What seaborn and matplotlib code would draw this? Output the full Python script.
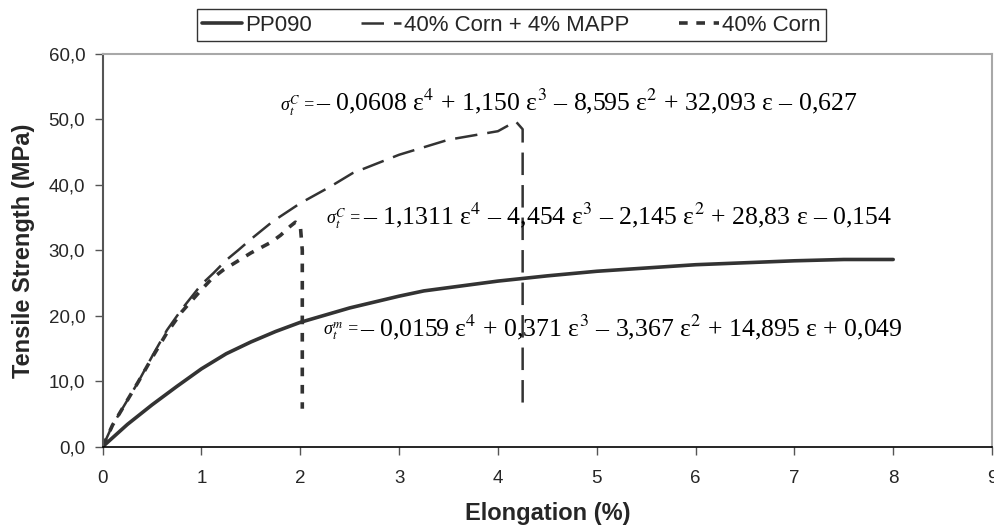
import matplotlib
matplotlib.use("Agg")
import matplotlib.pyplot as plt
import seaborn as sns
import pandas as pd
from matplotlib.ticker import FuncFormatter

# ---- data ----
pp_x = [0, 0.25, 0.5, 0.75, 1.0, 1.25, 1.5, 1.75, 2.0, 2.5, 3.0, 3.25, 3.5,
        4.0, 4.5, 5.0, 5.5, 6.0, 6.5, 7.0, 7.5, 8.0]
pp_y = [0, 3.4, 6.4, 9.2, 11.9, 14.2, 16.0, 17.6, 19.0, 21.2, 23.0, 23.8, 24.3,
        25.3, 26.1, 26.8, 27.3, 27.8, 28.1, 28.4, 28.6, 28.6]

mapp_x = [0, 0.1, 0.36, 0.5, 0.65, 0.8, 1.0, 1.12, 1.25, 1.37, 1.5, 1.72, 2.0,
          2.3, 2.53, 3.0, 3.5, 4.0, 4.18, 4.25, 4.25]
mapp_y = [0, 3.3, 9.9, 13.8, 17.8, 21.0, 24.8, 26.5, 28.5, 30.0, 31.7, 34.4, 37.2,
          39.7, 41.8, 44.6, 46.9, 48.2, 49.7, 48.5, 5.5]

corn_x = [0, 0.1, 0.36, 0.5, 0.65, 0.8, 1.0, 1.1, 1.22, 1.35, 1.5, 1.7, 1.8,
          1.9, 1.95, 2.0, 2.02, 2.02]
corn_y = [0, 3.3, 9.9, 13.6, 17.4, 20.6, 24.0, 25.6, 27.0, 28.2, 29.6, 31.2, 32.3,
          33.7, 34.3, 33.8, 30.0, 5.8]

series_names = ["PP090", "40% Corn + 4% MAPP", "40% Corn"]

equations = [
    ("σ$_t^C$ =", "– 0,0608 ε$^4$ + 1,150 ε$^3$ – 8,595 ε$^2$ + 32,093 ε – 0,627", 2.16, 52.7),
    ("σ$_t^C$ =", "– 1,1311 ε$^4$ – 4,454 ε$^3$ – 2,145 ε$^2$ + 28,83 ε – 0,154", 2.63, 35.4),
    ("σ$_t^m$ =", "– 0,0159 ε$^4$ + 0,371 ε$^3$ – 3,367 ε$^2$ + 14,895 ε + 0,049", 2.60, 18.3),
]

x_ticks = list(range(0, 10))
y_ticks = [0, 10, 20, 30, 40, 50, 60]

# ---- plotting ----
sns.set_style("ticks")
plt.rcParams["font.family"] = ["Liberation Sans", "DejaVu Sans"]
plt.rcParams["mathtext.fontset"] = "stix"

fig = plt.figure(figsize=(9.95, 5.29), dpi=100)
ax = fig.add_axes([0.1032, 0.1556, 0.997 - 0.1032, 0.898 - 0.1556])

line_col = "#333333"
df_pp = pd.DataFrame({"x": pp_x, "y": pp_y})
df_mapp = pd.DataFrame({"x": mapp_x, "y": mapp_y})
df_corn = pd.DataFrame({"x": corn_x, "y": corn_y})

sns.lineplot(data=df_pp, x="x", y="y", ax=ax, estimator=None, sort=False,
             color=line_col, linewidth=2.6, label=series_names[0])
sns.lineplot(data=df_mapp, x="x", y="y", ax=ax, estimator=None, sort=False,
             color=line_col, linewidth=1.8, label=series_names[1])
ax.lines[-1].set_dashes((9, 4))
sns.lineplot(data=df_corn, x="x", y="y", ax=ax, estimator=None, sort=False,
             color=line_col, linewidth=2.6, label=series_names[2])
ax.lines[-1].set_dashes((2.4, 2.4))

ax.set_xlim(0, 9)
ax.set_ylim(0, 60)
ax.set_xticks(x_ticks)
ax.set_yticks(y_ticks)
ax.yaxis.set_major_formatter(FuncFormatter(lambda v, p: f"{v:.1f}".replace(".", ",")))
ax.tick_params(axis="both", labelsize=13.5, length=5.5, width=1, color="#555555",
               direction="out")
ax.tick_params(axis="x", pad=11)
ax.tick_params(axis="y", pad=7)

ax.set_xlabel("Elongation (%)", fontsize=17, fontweight="bold")
ax.set_ylabel("Tensile Strength (MPa)", fontsize=17, fontweight="bold")
ax.xaxis.label.set_va("center")
ax.yaxis.label.set_va("center")
ax.xaxis.set_label_coords(0.5, -0.169)
ax.yaxis.set_label_coords(-0.0885, 0.5)

for s in ["top", "right"]:
    ax.spines[s].set_visible(True)
    ax.spines[s].set_color("#a8a8a8")
    ax.spines[s].set_linewidth(1.5)
ax.spines["left"].set_color("#555555")
ax.spines["left"].set_linewidth(1.5)
ax.spines["bottom"].set_color("#000000")
ax.spines["bottom"].set_linewidth(1.2)

for small, big, ex, ey in equations:
    ax.text(ex, ey, big, fontsize=18.5, family="Liberation Serif", va="center",
            ha="left", color="black")
    ax.text(ex - 0.01, ey - 0.6, small, fontsize=13, family="Liberation Serif",
            va="center", ha="right", color="black", style="italic")

handles, labels = ax.get_legend_handles_labels()
ax.get_legend().remove()
leg = fig.legend(handles, labels, loc="center", ncol=3,
                 bbox_to_anchor=(0.514, 0.952),
                 fontsize=16, frameon=True, fancybox=False, edgecolor="black",
                 handlelength=1.8, handletextpad=0.15, borderpad=0.25,
                 borderaxespad=0, columnspacing=2.2)
leg.get_frame().set_linewidth(1.0)

fig.savefig("out.png", dpi=100)
